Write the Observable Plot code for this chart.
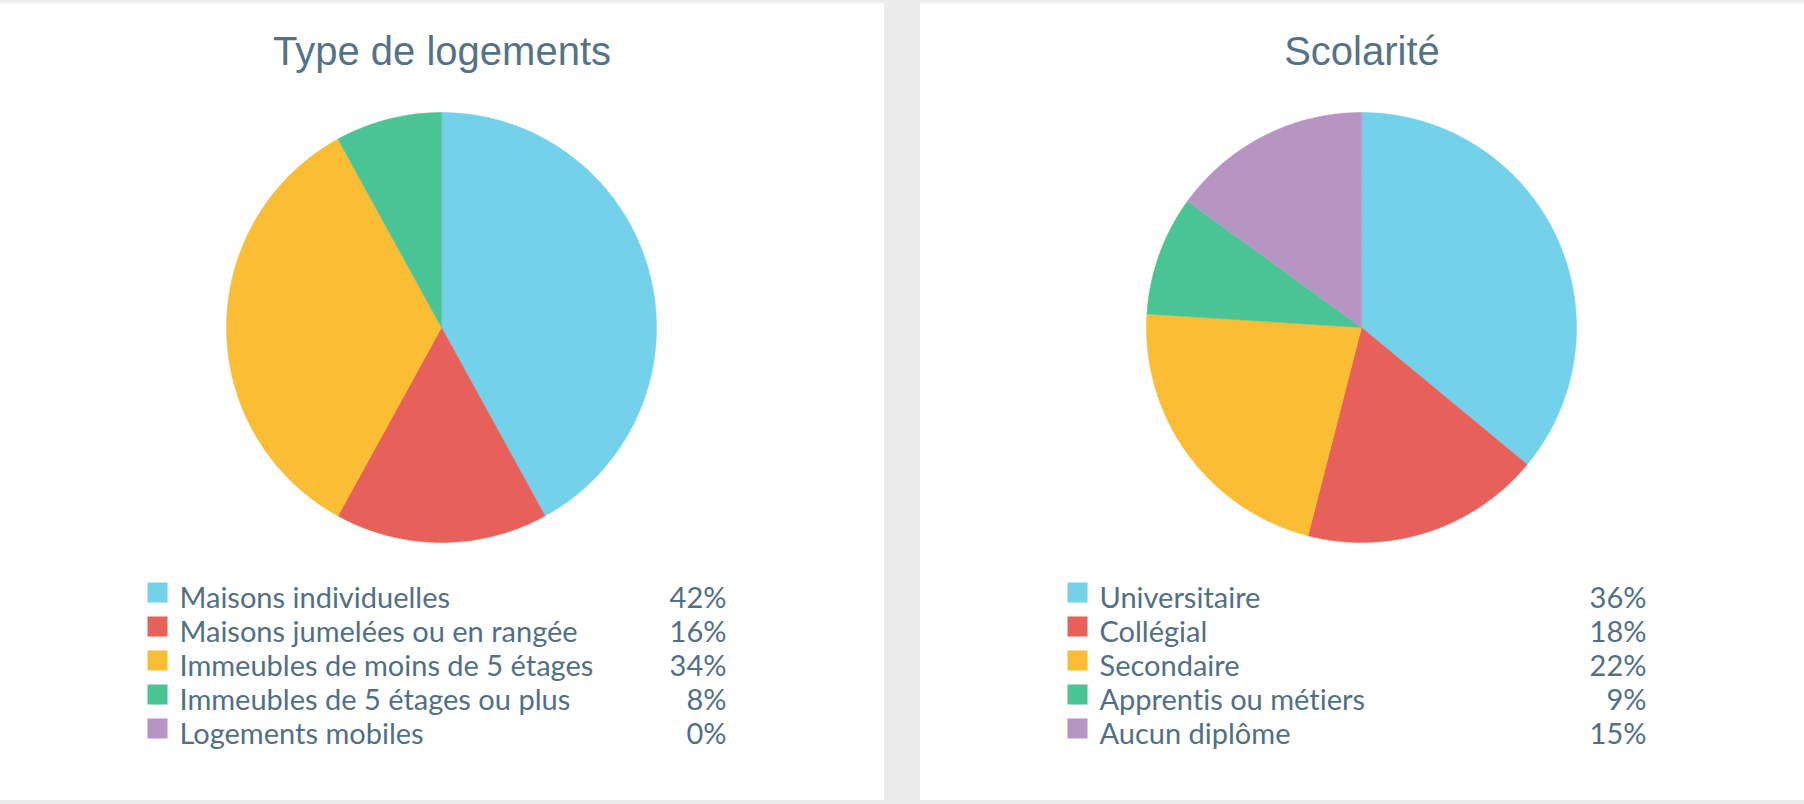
<!DOCTYPE html>
<html>
<head>
<meta charset="utf-8">
<script src="https://cdn.jsdelivr.net/npm/d3@7"></script>
<script src="https://cdn.jsdelivr.net/npm/@observablehq/plot@0.6"></script>
<style>
  html, body { margin: 0; padding: 0; background: #ececec; }
  body { width: 1804px; height: 804px; position: relative; overflow: hidden; }
  .panel { position: absolute; top: 3px; width: 884px; height: 797px; background: #ffffff; }
  .title { position: absolute; left: 0; width: 100%; top: 28px; text-align: center;
           font-family: "Liberation Sans", Arial, sans-serif; font-size: 40px; line-height: 40px;
           color: #557388; }
  .pie { position: absolute; left: 221px; top: 104px; }
  .legend { position: absolute; left: 141px; top: 567px; }
  .legend text { font-variant-ligatures: none; font-feature-settings: "liga" 0; }
</style>
</head>
<body>
<div class="panel" id="p1" style="left:0px"><div class="title">Type de logements</div></div>
<div class="panel" id="p2" style="left:920px"><div class="title">Scolarité</div></div>
<script>
// ---- Data ----
const logementCategories = [
  "Maisons individuelles",
  "Maisons jumelées ou en rangée",
  "Immeubles de moins de 5 étages",
  "Immeubles de 5 étages ou plus",
  "Logements mobiles"
];
const logementValues = [42, 16, 34, 8, 0];

const scolariteCategories = [
  "Universitaire",
  "Collégial",
  "Secondaire",
  "Apprentis ou métiers",
  "Aucun diplôme"
];
const scolariteValues = [36, 18, 22, 9, 15];

const sliceColors = ["#73d1ea", "#e8605a", "#fabd33", "#4ac494", "#b795c2"];
const textColor = "#526f86";

// ---- Build pie polygons from d3.pie ----
function pieRows(categories, values) {
  const rows = categories.map((c, i) => ({name: c, value: values[i]}));
  const arcs = d3.pie().sort(null).value(d => d.value).startAngle(0).endAngle(2 * Math.PI)(rows);
  const pts = [];
  for (const a of arcs) {
    if (a.endAngle - a.startAngle <= 0) continue;
    pts.push({name: a.data.name, a: null});
    const n = Math.max(2, Math.ceil((a.endAngle - a.startAngle) / (Math.PI / 360)));
    for (let k = 0; k <= n; k++) {
      pts.push({name: a.data.name, a: a.startAngle + (a.endAngle - a.startAngle) * k / n});
    }
  }
  return {rows, pts};
}

function drawPie(container, categories, values) {
  const {rows, pts} = pieRows(categories, values);
  const pie = Plot.plot({
    width: 440, height: 440, margin: 5,
    x: {domain: [-1, 1], axis: null},
    y: {domain: [-1, 1], axis: null},
    color: {domain: categories, range: sliceColors},
    marks: [
      Plot.line(pts, {
        x: d => d.a == null ? 0 : Math.sin(d.a),
        y: d => d.a == null ? 0 : Math.cos(d.a),
        z: "name", fill: "name", stroke: "name", strokeWidth: 0.5,
        curve: "linear-closed"
      })
    ]
  });
  pie.classList.add("pie");
  container.appendChild(pie);

  const legend = Plot.plot({
    width: 585, height: 200, margin: 0,
    x: {axis: null},
    y: {type: "point", domain: categories, range: [22, 158.8], padding: 0, axis: null},
    color: {domain: categories, range: sliceColors},
    style: {fontFamily: "Lato, sans-serif"},
    marks: [
      Plot.dot(rows, {y: "name", fill: "name", symbol: "square", r: 11.3, frameAnchor: "left", dx: 16}),
      Plot.text(rows, {y: "name", text: "name", frameAnchor: "left", textAnchor: "start", dx: 38, dy: 15,
                       lineAnchor: "bottom", fontSize: 29, fill: textColor}),
      Plot.text(rows, {y: "name", text: d => d.value + "%", frameAnchor: "right", textAnchor: "end", dy: 15,
                       lineAnchor: "bottom", fontSize: 29, fill: textColor})
    ]
  });
  legend.classList.add("legend");
  container.appendChild(legend);
}

drawPie(document.getElementById("p1"), logementCategories, logementValues);
drawPie(document.getElementById("p2"), scolariteCategories, scolariteValues);
</script>
</body>
</html>
